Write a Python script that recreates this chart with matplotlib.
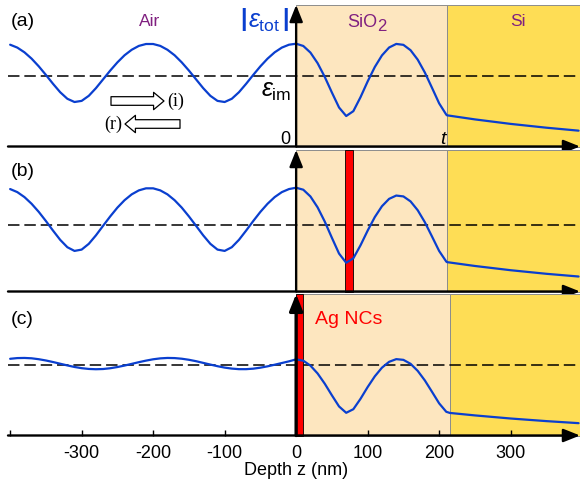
import matplotlib
matplotlib.use("Agg")
import matplotlib.pyplot as plt
from matplotlib.patches import Rectangle

plt.rcParams['font.family'] = ['Liberation Sans', 'DejaVu Sans']
plt.rcParams['mathtext.fontset'] = 'custom'
plt.rcParams['mathtext.rm'] = 'Liberation Sans'
plt.rcParams['mathtext.it'] = 'Liberation Sans:italic'
plt.rcParams['mathtext.bf'] = 'Liberation Sans:bold'

# ---------------- data (depth z in nm, field normalised to eps_im = 1) -------------
Z_AIR = [-400, -390, -380, -370, -360, -350, -340, -330, -320, -310, -300, -290, -280,
         -270, -260, -250, -240, -230, -220, -210, -200, -190, -180, -170, -160, -150,
         -140, -130, -120, -110, -100, -90, -80, -70, -60, -50, -40, -30, -20, -10, 0]
Z_SIO2_AB = [0, 10, 20, 30, 40, 50, 60, 70, 80, 90, 100, 110, 120, 130, 140, 150, 160,
             170, 180, 190, 200, 210, 211]
Z_SIO2_C = [0, 10, 20, 30, 40, 50, 60, 70, 80, 90, 100, 110, 120, 130, 140, 150, 160,
            170, 180, 190, 200, 210, 215]
Z_SI_AB = [211, 250, 300, 350, 395]
Z_SI_C = [215, 250, 300, 350, 395]

AIR_A = [1.446, 1.405, 1.338, 1.248, 1.139, 1.017, 0.890, 0.771, 0.678, 0.632, 0.648,
         0.720, 0.829, 0.954, 1.079, 1.195, 1.296, 1.374, 1.429, 1.456, 1.456, 1.429,
         1.374, 1.296, 1.195, 1.079, 0.954, 0.829, 0.720, 0.648, 0.632, 0.678, 0.771,
         0.890, 1.017, 1.139, 1.248, 1.338, 1.405, 1.446, 1.460]
SIO2_A = [1.460, 1.428, 1.334, 1.184, 0.989, 0.767, 0.554, 0.433, 0.502, 0.700, 0.924,
          1.129, 1.294, 1.406, 1.457, 1.444, 1.368, 1.234, 1.051, 0.834, 0.613, 0.452, 0.443]
SI_A = [0.443, 0.385, 0.321, 0.267, 0.225]

AIR_B = [1.545, 1.499, 1.424, 1.323, 1.201, 1.063, 0.918, 0.779, 0.668, 0.612, 0.632,
         0.719, 0.847, 0.991, 1.133, 1.265, 1.377, 1.465, 1.525, 1.556, 1.556, 1.525,
         1.465, 1.377, 1.265, 1.133, 0.991, 0.847, 0.719, 0.632, 0.612, 0.668, 0.779,
         0.918, 1.063, 1.201, 1.323, 1.424, 1.499, 1.545, 1.565]
SIO2_B = [1.565, 1.535, 1.433, 1.269, 1.055, 0.810, 0.572, 0.433, 0.501, 0.696, 0.918,
          1.122, 1.286, 1.397, 1.447, 1.434, 1.359, 1.226, 1.045, 0.830, 0.611, 0.451, 0.443]
SI_B = [0.443, 0.385, 0.321, 0.267, 0.226]

AIR_C = [1.088, 1.098, 1.100, 1.095, 1.082, 1.064, 1.042, 1.018, 0.994, 0.972, 0.955,
         0.944, 0.940, 0.943, 0.954, 0.971, 0.992, 1.016, 1.040, 1.062, 1.081, 1.094,
         1.100, 1.098, 1.089, 1.074, 1.054, 1.030, 1.006, 0.983, 0.963, 0.949, 0.941,
         0.941, 0.948, 0.962, 0.981, 1.004, 1.028, 1.052, 1.080]
SIO2_C = [1.085, 1.061, 0.991, 0.880, 0.735, 0.570, 0.412, 0.322, 0.373, 0.520, 0.687,
          0.839, 0.962, 1.045, 1.083, 1.073, 1.017, 0.917, 0.781, 0.620, 0.456, 0.336, 0.320]
SI_C = [0.320, 0.285, 0.241, 0.204, 0.175]

EPS_IM = 1.0
T_AB = 211
T_C = 215
NC_B = (69, 79)
NC_C = (0, 9)
TICKS = [-400, -300, -200, -100, 0, 100, 200, 300]
TICK_LABELS = ['', '-300', '-200', '-100', '0', '100', '200', '300']
PANEL_LABELS = ['(a)', '(b)', '(c)']

# ---------------- styling ----------------
W, Hpx = 580, 485
XL = (-403, 397)
C_SIO2 = '#fde6bf'
C_SI = '#fedd55'
C_LINE = '#0a3fcf'
C_PURPLE = '#802080'

fig = plt.figure(figsize=(W / 100, Hpx / 100), dpi=100)


def ftext(x, y, s, **kw):
    return fig.text(x / W, 1 - y / Hpx, s, **kw)


panels = [
    dict(axis_y=147.5, H=2.01, air=AIR_A, sio2=SIO2_A, si=SI_A, zs=Z_SIO2_AB, zsi=Z_SI_AB,
         t=T_AB, nc=None),
    dict(axis_y=292.5, H=2.134, air=AIR_B, sio2=SIO2_B, si=SI_B, zs=Z_SIO2_AB, zsi=Z_SI_AB,
         t=T_AB, nc=NC_B),
    dict(axis_y=436.5, H=2.007, air=AIR_C, sio2=SIO2_C, si=SI_C, zs=Z_SIO2_C, zsi=Z_SI_C,
         t=T_C, nc=NC_C),
]
ph = 141.5
axes = []
for i, p in enumerate(panels):
    ax = fig.add_axes([8 / W, 1 - p['axis_y'] / Hpx, 572 / W, ph / Hpx])
    axes.append(ax)
    H = p['H']
    ax.set_xlim(*XL)
    ax.set_ylim(0, H)
    for s in ax.spines.values():
        s.set_visible(False)
    ax.set_yticks([])
    ax.patch.set_alpha(0)
    t = p['t']
    ax.add_patch(Rectangle((0, 0), t, H, fc=C_SIO2, ec='#8c8c8c', lw=0.7,
                           zorder=0.5, clip_on=False))
    ax.add_patch(Rectangle((t, 0), XL[1] - t, H, fc=C_SI, ec='#8c8c8c', lw=0.7,
                           zorder=0.5, clip_on=False))
    ax.axhline(EPS_IM, color='k', lw=1.1, dashes=(7.5, 3.2), zorder=2)
    if p['nc'] is not None:
        z0, z1 = p['nc']
        ax.add_patch(Rectangle((z0, 0), z1 - z0, H, fc='#ff0000', ec='k', lw=0.6,
                               zorder=3, clip_on=False))
    z = Z_AIR + p['zs'][1:] + p['zsi'][1:]
    v = p['air'] + p['sio2'][1:] + p['si'][1:]
    ax.plot(z, v, color=C_LINE, lw=1.6, zorder=4, solid_joinstyle='round',
            solid_capstyle='round')
    # axes arrows
    ax.annotate('', xy=(XL[1], 0), xytext=(XL[0], 0), annotation_clip=False,
                arrowprops=dict(arrowstyle='-|>,head_length=0.5,head_width=0.2',
                                mutation_scale=20, lw=1.7, color='k',
                                shrinkA=0, shrinkB=0), zorder=6)
    ax.annotate('', xy=(0, H), xytext=(0, 0), annotation_clip=False,
                arrowprops=dict(arrowstyle='-|>,head_length=0.5,head_width=0.2',
                                mutation_scale=20, lw=1.7 if i < 2 else 2.4, color='k',
                                shrinkA=0, shrinkB=0), zorder=6)
    if i < 2:
        ax.set_xticks([])
    else:
        ax.set_xticks(TICKS)
        ax.set_xticklabels(TICK_LABELS)
        ax.tick_params(axis='x', direction='in', length=4.5, width=1.0, pad=6,
                       labelsize=13, color='k')

# panel labels
for lab, y in zip(PANEL_LABELS, [21, 171, 319]):
    ftext(11, y, lab, ha='left', va='center', fontsize=14)

# region labels
ftext(150, 22, 'Air', ha='center', va='center', fontsize=12.5, color=C_PURPLE)
ftext(347, 27, 'SiO', ha='left', va='baseline', fontsize=13, color=C_PURPLE)
ftext(377.5, 31, '2', ha='left', va='baseline', fontsize=12, color=C_PURPLE)
ftext(518, 22, 'Si', ha='center', va='center', fontsize=12.5, color=C_PURPLE)

# |eps_tot|
ftext(243.5, 19.5, '|', ha='center', va='center', fontsize=17, color=C_LINE,
      fontweight='bold')
ftext(285, 19.5, '|', ha='center', va='center', fontsize=17, color=C_LINE,
      fontweight='bold')
ftext(264.5, 27.5, r'$\varepsilon_{\mathrm{tot}}$', ha='center', va='baseline',
      fontsize=18, color=C_LINE)
ftext(291, 97, r'$\varepsilon_{\mathrm{im}}$', ha='right', va='baseline', fontsize=18)
ftext(290, 139, '0', ha='right', va='center', fontsize=13)
ftext(445, 139, 't', ha='right', va='center', fontsize=14, style='italic')
ftext(349, 320, 'Ag NCs', ha='center', va='center', fontsize=14, color='#ff0000')
ftext(296, 471, 'Depth z (nm)', ha='center', va='center', fontsize=13)

# incident / reflected arrows
arr = dict(arrowstyle='simple,head_length=0.75,head_width=1.25,tail_width=0.62',
           mutation_scale=10, fc='white', ec='k', lw=0.9, shrinkA=0, shrinkB=0)
axes[0].annotate('', xy=(164 / W, 1 - 102 / Hpx), xytext=(111 / W, 1 - 102 / Hpx),
                 xycoords='figure fraction', textcoords='figure fraction',
                 arrowprops=arr, annotation_clip=False)
axes[0].annotate('', xy=(125 / W, 1 - 125 / Hpx), xytext=(180 / W, 1 - 125 / Hpx),
                 xycoords='figure fraction', textcoords='figure fraction',
                 arrowprops=arr, annotation_clip=False)
ftext(175.5, 101, '(i)', ha='center', va='center', fontsize=13,
      family=['Liberation Serif', 'DejaVu Serif'])
ftext(113, 124, '(r)', ha='center', va='center', fontsize=13,
      family=['Liberation Serif', 'DejaVu Serif'])

fig.savefig('out.png', dpi=100)
